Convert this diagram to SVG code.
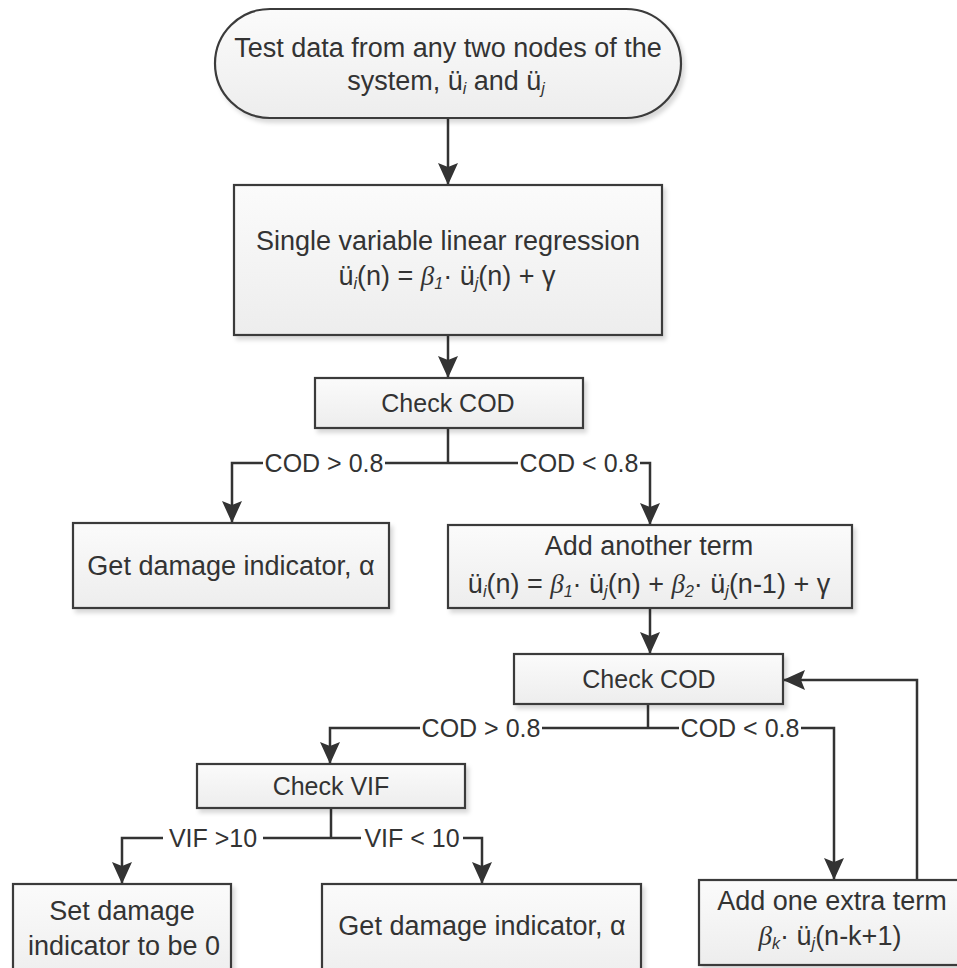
<svg xmlns="http://www.w3.org/2000/svg" width="957" height="968" viewBox="0 0 957 968">
<style>
.node{fill:url(#g);stroke:#3a3a3a;stroke-width:2.2;filter:url(#sh)}
.t{font-family:"Liberation Sans",Arial,sans-serif;font-size:27px;fill:#333;text-anchor:middle}
.s{font-size:25px}
.sub{font-size:16px;font-style:italic}
.b{font-family:"Liberation Serif",serif;font-style:italic}
.c{fill:none;stroke:#333;stroke-width:2.5}
.a{marker-end:url(#ar)}
.bg{fill:#fff;stroke:none}
.lbl{font-family:"Liberation Sans",Arial,sans-serif;font-size:25px;fill:#333;text-anchor:middle}
</style>
<defs>
<linearGradient id="g" x1="0" y1="0" x2="0" y2="1"><stop offset="0" stop-color="#fbfbfb"/><stop offset="1" stop-color="#ededed"/></linearGradient>
<filter id="sh" x="-5%" y="-5%" width="115%" height="125%"><feDropShadow dx="3" dy="4" stdDeviation="2" flood-color="#000" flood-opacity="0.15"/></filter>
<marker id="ar" viewBox="0 0 22 20" refX="22" refY="10" markerWidth="22" markerHeight="20" markerUnits="userSpaceOnUse" orient="auto"><path d="M0,0 L22,10 L0,20 L4,10 z" fill="#333"/></marker>
</defs>
<rect width="957" height="968" fill="#fff"/>
<g id="connectors">
<path class="c a" d="M448,118 V185"/>
<path class="c a" d="M448,335 V378"/>
<path class="c" d="M448,428 V463"/>
<path class="c a" d="M448,463 H232 V523"/>
<path class="c a" d="M448,463 H650 V525"/>
<path class="c a" d="M650,608 V654"/>
<path class="c" d="M648,704 V728"/>
<path class="c a" d="M648,728 H330 V764"/>
<path class="c a" d="M648,728 H834 V880"/>
<path class="c a" d="M917,880 V680 H783"/>
<path class="c" d="M331,808 V838"/>
<path class="c a" d="M331,838 H122 V884"/>
<path class="c a" d="M331,838 H482 V884"/>
<rect class="bg" x="263" y="450" width="122" height="26"/>
<rect class="bg" x="518" y="450" width="122" height="26"/>
<rect class="bg" x="420" y="715" width="122" height="26"/>
<rect class="bg" x="679" y="715" width="122" height="26"/>
<rect class="bg" x="163" y="825" width="100" height="26"/>
<rect class="bg" x="361" y="825" width="102" height="26"/>
<text class="lbl" x="324" y="472">COD &gt; 0.8</text>
<text class="lbl" x="579" y="472">COD &lt; 0.8</text>
<text class="lbl" x="481" y="737">COD &gt; 0.8</text>
<text class="lbl" x="740" y="737">COD &lt; 0.8</text>
<text class="lbl" x="213" y="847">VIF &gt;10</text>
<text class="lbl" x="412" y="847">VIF &lt; 10</text>
</g>
<g id="start">
<rect class="node" x="215" y="9" width="466" height="109" rx="55" ry="54.5"/>
<text class="t" x="448" y="57">Test data from any two nodes of the</text>
<text class="t" x="446" y="90">system, ü<tspan class="sub" dy="4">i</tspan><tspan dy="-4"> and ü</tspan><tspan class="sub" dy="4">j</tspan></text>
</g>
<g id="regression">
<rect class="node" x="234" y="185" width="428" height="150"/>
<text class="t" x="448" y="250">Single variable linear regression</text>
<text class="t" x="447" y="285">ü<tspan class="sub" dy="4">i</tspan><tspan dy="-4">(n) = </tspan><tspan class="b">β</tspan><tspan class="sub" dy="4" font-style="normal">1</tspan><tspan dy="-4">· ü</tspan><tspan class="sub" dy="4">j</tspan><tspan dy="-4">(n) + γ</tspan></text>
</g>
<g id="checkcod1">
<rect class="node" x="315" y="378" width="268" height="50"/>
<text class="t s" x="448" y="412">Check COD</text>
</g>
<g id="getdamage1">
<rect class="node" x="73" y="523" width="316" height="85"/>
<text class="t" x="231" y="575">Get damage indicator, α</text>
</g>
<g id="addterm">
<rect class="node" x="448" y="525" width="404" height="83"/>
<text class="t" x="649" y="555">Add another term</text>
<text class="t" x="649" y="593">ü<tspan class="sub" dy="4">i</tspan><tspan dy="-4">(n) = </tspan><tspan class="b">β</tspan><tspan class="sub" dy="4" font-style="normal">1</tspan><tspan dy="-4">· ü</tspan><tspan class="sub" dy="4">j</tspan><tspan dy="-4">(n) + </tspan><tspan class="b">β</tspan><tspan class="sub" dy="4" font-style="normal">2</tspan><tspan dy="-4">· ü</tspan><tspan class="sub" dy="4">j</tspan><tspan dy="-4">(n-1) + γ</tspan></text>
</g>
<g id="checkcod2">
<rect class="node" x="514" y="654" width="269" height="50"/>
<text class="t s" x="649" y="688">Check COD</text>
</g>
<g id="checkvif">
<rect class="node" x="197" y="764" width="268" height="44"/>
<text class="t s" x="331" y="795">Check VIF</text>
</g>
<g id="setzero">
<rect class="node" x="13" y="884" width="218" height="100"/>
<text class="t" x="122" y="920">Set damage</text>
<text class="t" x="124" y="955">indicator to be 0</text>
</g>
<g id="getdamage2">
<rect class="node" x="322" y="884" width="319" height="100"/>
<text class="t" x="482" y="935">Get damage indicator, α</text>
</g>
<g id="extraterm">
<rect class="node" x="699" y="880" width="266" height="85"/>
<text class="t" x="832" y="910">Add one extra term</text>
<text class="t" x="830" y="945"><tspan class="b">β</tspan><tspan class="sub" dy="4">k</tspan><tspan dy="-4">· ü</tspan><tspan class="sub" dy="4">j</tspan><tspan dy="-4">(n-k+1)</tspan></text>
</g>
</svg>
